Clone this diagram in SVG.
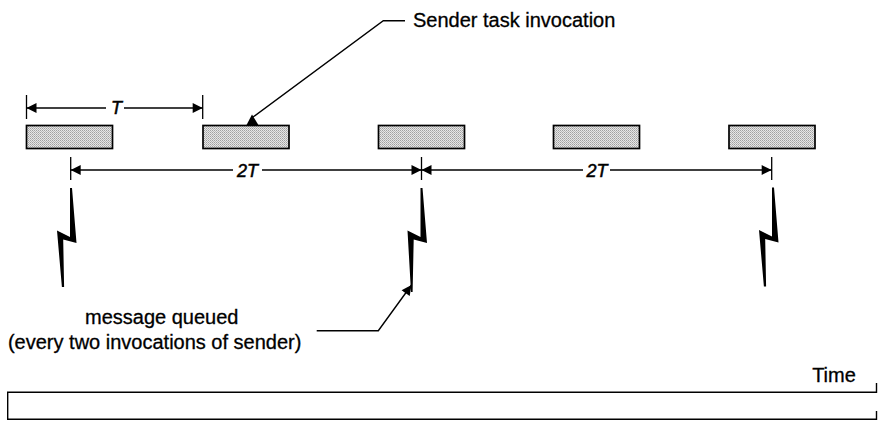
<svg xmlns="http://www.w3.org/2000/svg" width="881" height="429" viewBox="0 0 881 429">
<defs>
<pattern id="stip" width="2" height="2" patternUnits="userSpaceOnUse">
<rect width="2" height="2" fill="#e6e6e6"/>
<rect x="0" y="0" width="1" height="1" fill="#a0a0a0"/>
<rect x="1" y="1" width="1" height="1" fill="#b8b8b8"/>
</pattern>
<marker id="ah" viewBox="0 0 10 10" refX="10" refY="5" markerWidth="11" markerHeight="10" markerUnits="userSpaceOnUse" orient="auto-start-reverse">
<path d="M0,0 L10,5 L0,10 Z" fill="#000"/>
</marker>
<path id="bolt" d="M1,0 L5.5,55 L-7.8,51.5 L-6.9,99 L-9.1,99 L-14,42.5 L-1,49 L-1,0 Z"/>
</defs>
<style>
.box{fill:url(#stip);stroke:#000;stroke-width:1.7}
.ln{stroke:#000;stroke-width:1.4;fill:none}
.tk{stroke:#000;stroke-width:1.3}
.lbl{font-family:"Liberation Sans",Arial,sans-serif;font-size:20px;fill:#000;stroke:#000;stroke-width:0.3}
.it{font-family:"Liberation Sans",Arial,sans-serif;font-size:18px;font-style:italic;fill:#000;stroke:#000;stroke-width:0.5}
.bolt{fill:#000}
</style>
<rect width="881" height="429" fill="#fff"/>

<g id="invocation1"><rect class="box" x="26.5" y="125.5" width="86" height="23"/></g>
<g id="invocation2"><rect class="box" x="203" y="125.5" width="86" height="23"/></g>
<g id="invocation3"><rect class="box" x="378.5" y="125.5" width="86" height="23"/></g>
<g id="invocation4"><rect class="box" x="553.5" y="125.5" width="86" height="23"/></g>
<g id="invocation5"><rect class="box" x="729" y="125.5" width="86" height="23"/></g>

<g id="message1"><use href="#bolt" class="bolt" x="71" y="188"/></g>
<g id="message2"><path class="bolt" d="M422.5,188 L427,243 L413.7,239.5 L412.6,292 L411,292 L407.5,230.5 L420.5,237 L420.5,188 Z"/></g>
<g id="message3"><use href="#bolt" class="bolt" x="773" y="187.5"/></g>

<g id="connectors">
<line class="tk" x1="26.5" y1="95" x2="26.5" y2="119"/>
<line class="tk" x1="202.7" y1="95" x2="202.7" y2="119"/>
<line class="ln" x1="26.5" y1="108" x2="106" y2="108" marker-start="url(#ah)"/>
<line class="ln" x1="124" y1="108" x2="202.7" y2="108" marker-end="url(#ah)"/>
<line class="tk" x1="70.7" y1="157" x2="70.7" y2="180"/>
<line class="tk" x1="421.5" y1="157" x2="421.5" y2="180"/>
<line class="tk" x1="771.7" y1="157" x2="771.7" y2="180"/>
<line class="ln" x1="70.7" y1="170" x2="233" y2="170" marker-start="url(#ah)"/>
<line class="ln" x1="262" y1="170" x2="421.5" y2="170" marker-end="url(#ah)"/>
<line class="ln" x1="421.5" y1="170" x2="583" y2="170" marker-start="url(#ah)"/>
<line class="ln" x1="610" y1="170" x2="771.7" y2="170" marker-end="url(#ah)"/>
<polyline class="ln" points="405,20.7 383.3,20.7 253,117"/>
<polygon points="246,126 259,126 252,114.5" fill="#000"/>
<polyline class="ln" points="316.7,330.7 378.3,330.7 411.5,285" marker-end="url(#ah)"/>
<path class="ln" d="M876.5,383 L876.5,392.3 L7.7,392.3 L7.7,419.3 L876.5,419.3 L876.5,411"/>
</g>

<g id="labels">
<text class="it" x="116.5" y="114" text-anchor="middle">T</text>
<text class="it" x="247.5" y="176.5" text-anchor="middle">2T</text>
<text class="it" x="597" y="176.5" text-anchor="middle">2T</text>
<text class="lbl" x="413" y="27">Sender task invocation</text>
<text class="lbl" x="161.7" y="324" text-anchor="middle">message queued</text>
<text class="lbl" x="154.7" y="349" text-anchor="middle">(every two invocations of sender)</text>
<text class="lbl" x="834" y="381.5" text-anchor="middle">Time</text>
</g>
</svg>
